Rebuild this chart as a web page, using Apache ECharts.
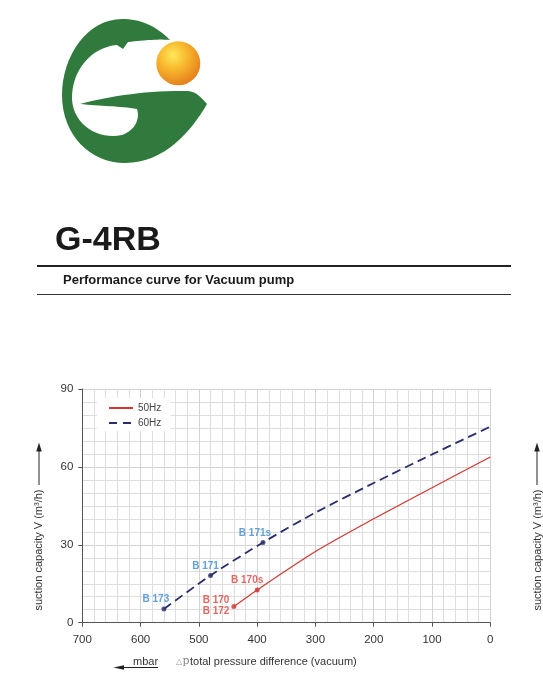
<!DOCTYPE html>
<html><head><meta charset="utf-8">
<script src="https://cdn.jsdelivr.net/npm/echarts@6/dist/echarts.min.js"></script>
<style>html,body{margin:0;padding:0;background:#fff}#c{width:543px;height:690px}</style>
</head><body><div id="c"></div>
<script>
// ---- data ----
const pressure60 = [560, 480, 390, 300, 200, 100, 0];
const capacity60 = [5.3, 18.2, 30.9, 42.4, 53.8, 64.8, 75.5];
const pressure50 = [440, 400, 300, 200, 100, 0];
const capacity50 = [6.2, 12.6, 27.4, 40.0, 52.0, 63.8];
const pumps60 = ['B 173', 'B 171', 'B 171s'];
const pumps60P = [560, 480, 390];
const pumps60V = [5.3, 18.2, 30.9];
const pumps50 = ['B 170\nB 172', 'B 170s'];
const pumps50P = [440, 400];
const pumps50V = [6.2, 12.6];
const xTicks = [700, 600, 500, 400, 300, 200, 100, 0];
const yTicks = [0, 30, 60, 90];

const FONT = 'Liberation Sans, Arial, sans-serif';
const RED = '#d2352f', NAVY = '#2a2e6a', BLUE = '#3a8ad0', LRED = '#d9443a';

// ---- logo outline (decorative) ----
function bezPts(start, segs) {
  const pts = [start]; let p = start;
  for (const s of segs) {
    if (s.length === 1) { pts.push(s[0]); p = s[0]; continue; }
    const [c1, c2, e] = s;
    for (let i = 1; i <= 16; i++) {
      const t = i / 16, m = 1 - t;
      pts.push([
        m*m*m*p[0] + 3*m*m*t*c1[0] + 3*m*t*t*c2[0] + t*t*t*e[0],
        m*m*m*p[1] + 3*m*m*t*c1[1] + 3*m*t*t*c2[1] + t*t*t*e[1]
      ]);
    }
    p = e;
  }
  return pts;
}
const logoPts = bezPts([170, 40], [
  [[155, 25], [140, 19], [122, 19]],
  [[88, 19], [62, 55], [62, 95]],
  [[62, 135], [90, 163], [125, 163]],
  [[165, 163], [192, 130], [207, 104]],
  [[200, 96], [196, 92], [188, 91]],
  [[150, 90], [110, 96], [80, 104]],
  [[100, 106], [120, 106], [137, 109]],
  [[140, 118], [136, 130], [122, 135]],
  [[98, 140], [74, 125], [72, 100]],
  [[71, 70], [92, 47], [117, 45]],
  [[123, 49]],
  [[128, 42]],
  [[145, 40], [160, 39], [170, 40]]
]);

const chart = echarts.init(document.getElementById('c'), null, {renderer: 'canvas'});

const arrowUp = (x, yTop, yBot) => ([
  {type: 'line', shape: {x1: x, y1: yBot, x2: x, y2: yTop + 7}, style: {stroke: '#222', lineWidth: 1}},
  {type: 'polygon', shape: {points: [[x, yTop], [x - 2.8, yTop + 9], [x + 2.8, yTop + 9]]}, style: {fill: '#222'}}
]);

chart.setOption({
  backgroundColor: '#fff',
  animation: false,
  textStyle: {fontFamily: FONT},
  grid: {left: 82.3, right: 52.7, top: 389, bottom: 67.3, outerBoundsMode: 'none'},
  legend: {
    data: ['50Hz', {name: '60Hz', lineStyle: {type: [8, 6]}}], orient: 'vertical', left: 97, top: 398,
    itemWidth: 24, itemHeight: 10, itemGap: 5,
    backgroundColor: '#fff', padding: [5, 9, 3, 11],
    itemStyle: {color: 'rgba(0,0,0,0)', borderWidth: 0, opacity: 0},
    textStyle: {fontSize: 10, color: '#444', fontFamily: FONT}
  },
  xAxis: {
    type: 'value', inverse: true, min: 0, max: 700, interval: 100,
    axisLine: {show: true, onZero: false, lineStyle: {color: '#555', width: 1}},
    axisTick: {show: true, length: 4, lineStyle: {color: '#555'}},
    axisLabel: {fontSize: 11.5, color: '#333', margin: 11, fontFamily: FONT,
      formatter: v => xTicks.includes(v) ? String(v) : ''},
    splitLine: {show: true, lineStyle: {color: '#d3d3d3', width: 1}},
    minorTick: {show: false, splitNumber: 5},
    minorSplitLine: {show: true, lineStyle: {color: '#dedede', width: 1}}
  },
  yAxis: {
    type: 'value', min: 0, max: 90, interval: 30,
    axisLine: {show: true, onZero: false, lineStyle: {color: '#555', width: 1}},
    axisTick: {show: true, length: 4, lineStyle: {color: '#555'}},
    axisLabel: {fontSize: 11.5, color: '#333', margin: 9, fontFamily: FONT,
      formatter: v => yTicks.includes(v) ? String(v) : ''},
    splitLine: {show: true, lineStyle: {color: '#d3d3d3', width: 1}},
    minorTick: {show: false, splitNumber: 6},
    minorSplitLine: {show: true, lineStyle: {color: '#dedede', width: 1}}
  },
  series: [
    {
      name: '50Hz', type: 'line', smooth: 0.2, symbol: 'none', color: RED,
      lineStyle: {color: RED, width: 1.2},
      data: pressure50.map((p, i) => [p, capacity50[i]]), z: 3
    },
    {
      name: '60Hz', type: 'line', smooth: 0.25, symbol: 'none', color: NAVY,
      lineStyle: {color: NAVY, width: 1.8, type: [9, 5]},
      data: pressure60.map((p, i) => [p, capacity60[i]]), z: 3
    },
    {
      name: 'pts60', type: 'scatter', symbolSize: 5, itemStyle: {color: NAVY}, z: 4,
      label: {show: true, formatter: '{b}', position: 'top', distance: 2,
        color: BLUE, fontWeight: 'bold', fontSize: 10, fontFamily: FONT},
      data: pumps60.map((n, i) => ({name: n, value: [pumps60P[i], pumps60V[i]],
        label: {offset: [[-8, 0], [-5, 0], [-8, 0]][i]}}))
    },
    {
      name: 'pts50', type: 'scatter', symbolSize: 5, itemStyle: {color: '#c8352f'}, z: 4,
      label: {show: true, formatter: '{b}', color: LRED, fontWeight: 'bold',
        fontSize: 10, fontFamily: FONT, lineHeight: 10.5},
      data: pumps50.map((n, i) => ({name: n, value: [pumps50P[i], pumps50V[i]],
        label: i === 0 ? {position: 'left', distance: 2, align: 'right', offset: [0, -1]}
                       : {position: 'top', distance: 2, offset: [-10, 0]}}))
    }
  ],
  graphic: [
    // logo
    {type: 'polygon', shape: {points: logoPts}, style: {fill: '#2f7a3c'}},
    {type: 'circle', shape: {cx: 178.3, cy: 63.3, r: 22},
      style: {fill: new echarts.graphic.RadialGradient(0.38, 0.32, 0.75, [
        {offset: 0, color: '#ffe95a'}, {offset: 0.45, color: '#f7b52c'}, {offset: 1, color: '#e2781a'}])}},
    // header
    {type: 'text', x: 55, y: 240.5, style: {text: 'G-4RB', font: 'bold 34px ' + FONT, fill: '#1a1a1a', verticalAlign: 'middle'}},
    {type: 'rect', shape: {x: 37, y: 265, width: 474, height: 2}, style: {fill: '#222'}},
    {type: 'text', x: 63, y: 280.6, style: {text: 'Performance curve for Vacuum pump', font: 'bold 13px ' + FONT, fill: '#1a1a1a', verticalAlign: 'middle'}},
    {type: 'rect', shape: {x: 37, y: 294, width: 474, height: 1}, style: {fill: '#333'}},
    // y axis title left
    {type: 'text', x: 39, y: 550, rotation: Math.PI / 2,
      style: {text: 'suction capacity V (m³/h)', font: '11px ' + FONT, fill: '#333', align: 'center', verticalAlign: 'middle'}},
    ...arrowUp(39, 442.5, 485),
    // y axis title right (next page)
    {type: 'text', x: 537.5, y: 550, rotation: Math.PI / 2,
      style: {text: 'suction capacity V (m³/h)', font: '11px ' + FONT, fill: '#333', align: 'center', verticalAlign: 'middle'}},
    ...arrowUp(537, 442.5, 485),
    // x axis title
    {type: 'text', x: 133, y: 661.5, style: {text: 'mbar', font: '11px ' + FONT, fill: '#333', verticalAlign: 'middle'}},
    {type: 'line', shape: {x1: 121, y1: 667.5, x2: 158, y2: 667.5}, style: {stroke: '#222', lineWidth: 1.2}},
    {type: 'polygon', shape: {points: [[113.5, 667.5], [124, 665.3], [124, 669.7]]}, style: {fill: '#222'}},
    {type: 'text', x: 176, y: 661.5, style: {text: '△', font: '8px DejaVu Sans', fill: '#999', verticalAlign: 'middle'}},
    {type: 'text', x: 182.5, y: 661.5, style: {text: 'p', font: '11px DejaVu Serif', fill: '#888', verticalAlign: 'middle'}},
    {type: 'text', x: 190, y: 661.5, style: {text: 'total pressure difference (vacuum)', font: '11px ' + FONT, fill: '#333', verticalAlign: 'middle'}}
  ]
});
</script>
</body></html>
